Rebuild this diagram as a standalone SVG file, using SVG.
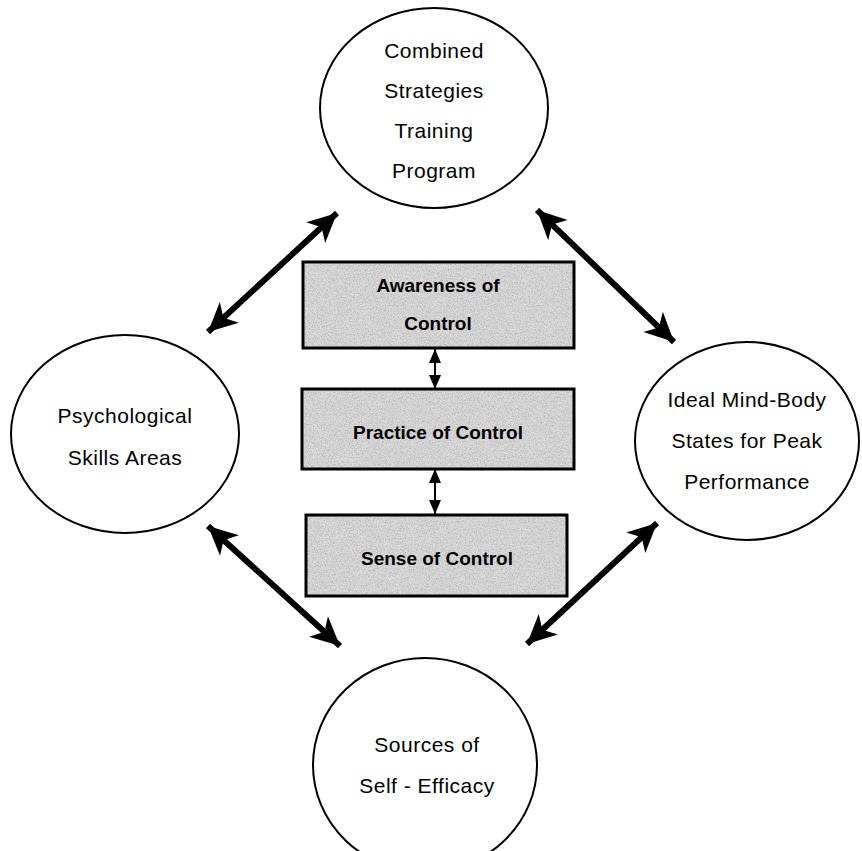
<svg xmlns="http://www.w3.org/2000/svg" width="862" height="851" viewBox="0 0 862 851">
  <style>
    .oval { fill: #ffffff; stroke: #000000; stroke-width: 2; }
    .oval-text { font-family: "Liberation Sans", Arial, sans-serif; font-size: 21px; letter-spacing: 0.5px; fill: #000000; text-anchor: middle; }
    .box-base { fill: #dcdcdc; }
    .box-edge { fill: none; stroke: #000000; stroke-width: 3; }
    .box-text { font-family: "Liberation Sans", Arial, sans-serif; font-size: 19px; font-weight: bold; fill: #000000; text-anchor: middle; }
    .big-link { stroke: #000000; stroke-width: 6; fill: none; marker-start: url(#bigHead); marker-end: url(#bigHead); }
    .small-link { stroke: #000000; stroke-width: 2; fill: none; marker-start: url(#smallHead); marker-end: url(#smallHead); }
  </style>
  <defs>
    <!-- barbed arrowheads, tip at the path end -->
    <marker id="bigHead" viewBox="-31 -15 33 30" refX="0" refY="0" markerWidth="33" markerHeight="30" markerUnits="userSpaceOnUse" orient="auto-start-reverse">
      <path d="M0,0 L-29,-14 L-21,0 L-29,14 Z" fill="#000000"/>
    </marker>
    <marker id="smallHead" viewBox="-15 -7 16 14" refX="0" refY="0" markerWidth="16" markerHeight="14" markerUnits="userSpaceOnUse" orient="auto-start-reverse">
      <path d="M0,0 L-14,-6 L-14,6 Z" fill="#000000"/>
    </marker>
    <!-- speckled grey stipple for the control boxes -->
    <filter id="grain" x="0" y="0" width="1" height="1" filterUnits="objectBoundingBox">
      <feTurbulence type="fractalNoise" baseFrequency="0.75" numOctaves="3" seed="7" result="noise"/>
      <feColorMatrix in="noise" type="matrix" values="0 0 0 0 0.45  0 0 0 0 0.45  0 0 0 0 0.45  2.2 0 0 0 -0.85" result="specks"/>
      <feComposite in="specks" in2="SourceAlpha" operator="in"/>
    </filter>
  </defs>

  <rect width="862" height="851" fill="#ffffff"/>

  <!-- connectors -->
  <g id="connectors">
    <line class="big-link" x1="337" y1="213" x2="208" y2="332"/>
    <line class="big-link" x1="537" y1="210" x2="674" y2="342"/>
    <line class="big-link" x1="208" y1="526" x2="340" y2="646"/>
    <line class="big-link" x1="657" y1="523" x2="527" y2="644"/>
    <line class="small-link" x1="435" y1="349" x2="435" y2="389"/>
    <line class="small-link" x1="435" y1="469" x2="435" y2="514"/>
  </g>

  <g id="combined-strategies">
    <ellipse class="oval" cx="434" cy="108" rx="114" ry="100"/>
    <text class="oval-text" x="434" y="58">Combined</text>
    <text class="oval-text" x="434" y="98">Strategies</text>
    <text class="oval-text" x="434" y="138">Training</text>
    <text class="oval-text" x="434" y="178">Program</text>
  </g>

  <g id="psychological-skills">
    <ellipse class="oval" cx="125" cy="434" rx="114" ry="99"/>
    <text class="oval-text" x="125" y="423">Psychological</text>
    <text class="oval-text" x="125" y="465">Skills Areas</text>
  </g>

  <g id="ideal-states">
    <ellipse class="oval" cx="747" cy="441" rx="112" ry="99"/>
    <text class="oval-text" x="747" y="407">Ideal Mind-Body</text>
    <text class="oval-text" x="747" y="448">States for Peak</text>
    <text class="oval-text" x="747" y="489">Performance</text>
  </g>

  <g id="self-efficacy">
    <ellipse class="oval" cx="425" cy="765" rx="112" ry="107"/>
    <text class="oval-text" x="427" y="752">Sources of</text>
    <text class="oval-text" x="427" y="793">Self - Efficacy</text>
  </g>

  <g id="awareness">
    <rect class="box-base" x="303" y="262" width="271" height="86"/>
    <rect x="303" y="262" width="271" height="86" fill="#000000" filter="url(#grain)"/>
    <rect class="box-edge" x="303" y="262" width="271" height="86"/>
    <text class="box-text" x="438" y="292">Awareness of</text>
    <text class="box-text" x="438" y="330">Control</text>
  </g>

  <g id="practice">
    <rect class="box-base" x="302" y="389" width="272" height="80"/>
    <rect x="302" y="389" width="272" height="80" fill="#000000" filter="url(#grain)"/>
    <rect class="box-edge" x="302" y="389" width="272" height="80"/>
    <text class="box-text" x="438" y="439">Practice of Control</text>
  </g>

  <g id="sense">
    <rect class="box-base" x="306" y="515" width="261" height="81"/>
    <rect x="306" y="515" width="261" height="81" fill="#000000" filter="url(#grain)"/>
    <rect class="box-edge" x="306" y="515" width="261" height="81"/>
    <text class="box-text" x="437" y="565">Sense of Control</text>
  </g>
</svg>
